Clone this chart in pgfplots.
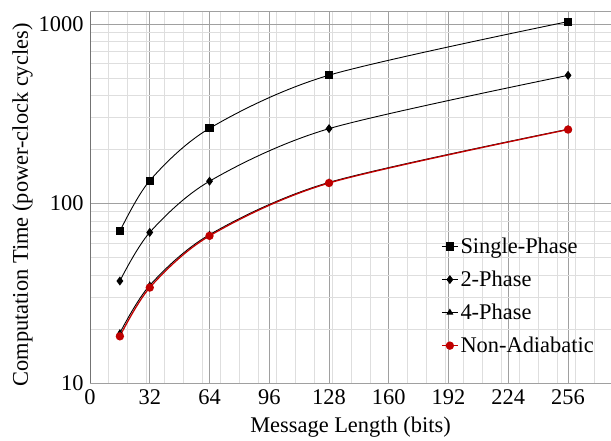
\documentclass[border=0pt]{standalone}
\usepackage{fontspec}
\setmainfont{Liberation Serif}
\usepackage{pgfplots}
\pgfplotsset{compat=1.18}
\definecolor{nared}{RGB}{192,0,0}
\definecolor{majgrid}{RGB}{160,160,160}
\definecolor{mingrid}{RGB}{222,222,222}

\begin{document}
\begin{tikzpicture}[font=\fontsize{22.5}{26}\selectfont]
\begin{axis}[
  scale only axis,
  width=521bp, height=372bp,
  ymode=log,
  xmin=0, xmax=279,
  ymin=10, ymax=1180,
  xtick={0,32,...,256},
  minor xtick={10,20,...,270},
  ytick={10,100,1000},
  yticklabels={10,100,1000},
  /pgf/number format/assume math mode=true,
  grid=both,
  major grid style={majgrid, line width=0.6pt},
  minor grid style={mingrid, line width=0.6pt},
  axis line style={draw=none},
  major tick length=0pt, minor tick length=0pt,
  xticklabel style={yshift=-3bp},
  yticklabel style={xshift=-3bp},
  xlabel={Message Length (bits)},
  ylabel={Computation Time (power-clock cycles)},
  xlabel style={at={(axis description cs:0.5,0)}, anchor=base, yshift=-50bp},
  ylabel style={at={(axis description cs:0,0.5)}, anchor=base, yshift=62bp, xshift=-8bp},
  every axis plot/.append style={line width=0.9pt, smooth},
  legend style={at={(0.668,0.401)}, anchor=north west, draw=none, fill=none,
    row sep=12bp, font=\fontsize{22.5}{26}\selectfont,
    /tikz/every even column/.append style={column sep=0bp}},
  legend cell align=left,
  legend image code/.code={\draw[mark repeat=2,mark phase=2]
    plot coordinates {(0bp,0bp)(8bp,0bp)(16bp,0bp)};},
]
\addplot[black, mark=square*, mark size=3.6bp] coordinates {
  (16,70) (32,134) (64,262) (128,518) (256,1030)};
\addlegendentry{Single-Phase}
\addplot[black, mark=diamond*, mark size=3.8bp] coordinates {
  (16,37) (32,69) (64,133) (128,261) (256,517)};
\addlegendentry{2-Phase}
\addplot[black, mark=triangle*, mark size=3.2bp] coordinates {
  (16,19) (32,35) (64,67) (128,131) (256,259)};
\addlegendentry{4-Phase}
\addplot[nared, line width=1.3pt, mark=*, mark size=3.5bp] coordinates {
  (16,18.2) (32,34) (64,66) (128,130) (256,258)};
\addlegendentry{Non-Adiabatic}
\draw[gray!90!black, line width=0.9pt] (rel axis cs:0,1) -- (rel axis cs:0,0) -- (rel axis cs:1,0);
\draw[majgrid, line width=0.8pt] (rel axis cs:0,1) -- (rel axis cs:1,1);
\coordinate (bl) at (rel axis cs:0,0);
\coordinate (tr) at (rel axis cs:1,1);
\end{axis}
\pgfresetboundingbox
\path ([shift={(-90bp,-58bp)}]bl) rectangle ([shift={(0bp,11bp)}]tr);
\end{tikzpicture}
\end{document}
